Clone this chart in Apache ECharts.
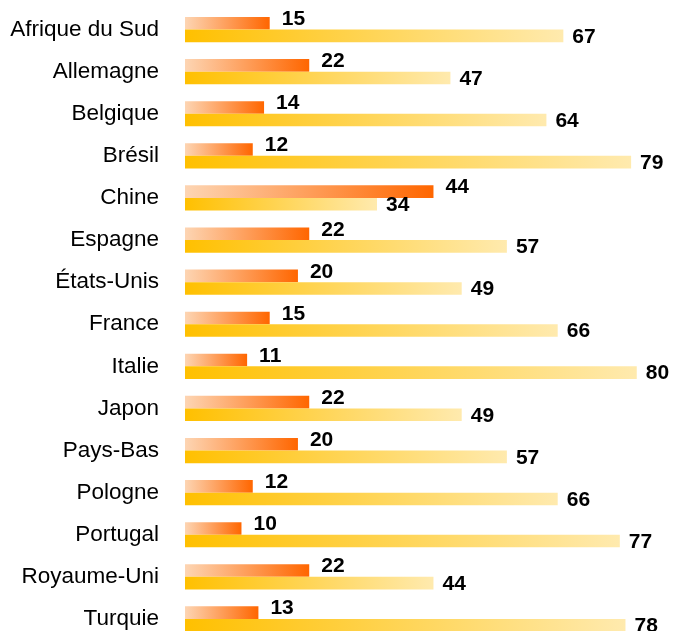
<!DOCTYPE html>
<html>
<head>
<meta charset="utf-8">
<script src="https://cdn.jsdelivr.net/npm/echarts@6/dist/echarts.min.js"></script>
<style>
  html, body { margin: 0; padding: 0; background: #fff; }
  #main { width: 677px; height: 631px; }
</style>
</head>
<body>
<div id="main"></div>
<script>
  // pays
  const categories = ['Afrique du Sud', 'Allemagne', 'Belgique', 'Brésil', 'Chine', 'Espagne', 'États-Unis',
    'France', 'Italie', 'Japon', 'Pays-Bas', 'Pologne', 'Portugal', 'Royaume-Uni', 'Turquie']
  // série du haut (orange foncé)
  const serieHaut = [15, 22, 14, 12, 44, 22, 20, 15, 11, 22, 20, 12, 10, 22, 13]
  // série du bas (jaune)
  const serieBas = [67, 47, 64, 79, 34, 57, 49, 66, 80, 49, 57, 66, 77, 44, 78]

  const police = 'Liberation Sans, Arial, sans-serif'
  const chart = echarts.init(document.getElementById('main'))

  chart.setOption({
    animation: false,
    grid: {
      left: 185,
      top: 8.5,
      width: 480,
      height: 631.5,
      outerBoundsMode: 'none'
    },
    xAxis: {
      type: 'value',
      min: 0,
      max: 85,
      show: false
    },
    yAxis: {
      type: 'category',
      inverse: true,
      data: categories,
      axisLine: { show: false },
      axisTick: { show: false },
      axisLabel: {
        margin: 26,
        fontSize: 22.5,
        color: '#000',
        fontFamily: police,
        padding: [4, 0, 0, 0]
      }
    },
    series: [
      {
        name: 'haut',
        type: 'bar',
        data: serieHaut,
        barWidth: 12.6,
        barGap: '0%',
        itemStyle: {
          color: new echarts.graphic.LinearGradient(0, 0, 1, 0, [
            { offset: 0, color: '#FDD5B3' },
            { offset: 1, color: '#FF6600' }
          ])
        },
        label: {
          show: true,
          position: 'right',
          distance: 12,
          offset: [0, -4],
          color: '#000',
          fontWeight: 'bold',
          fontSize: 21,
          fontFamily: police
        }
      },
      {
        name: 'bas',
        type: 'bar',
        data: serieBas,
        barWidth: 12.6,
        barGap: '0%',
        itemStyle: {
          color: new echarts.graphic.LinearGradient(0, 0, 1, 0, [
            { offset: 0, color: '#FFC000' },
            { offset: 1, color: '#FFEAAE' }
          ])
        },
        label: {
          show: true,
          position: 'right',
          distance: 9,
          offset: [0, 1],
          color: '#000',
          fontWeight: 'bold',
          fontSize: 21,
          fontFamily: police
        }
      }
    ]
  })
</script>
</body>
</html>
